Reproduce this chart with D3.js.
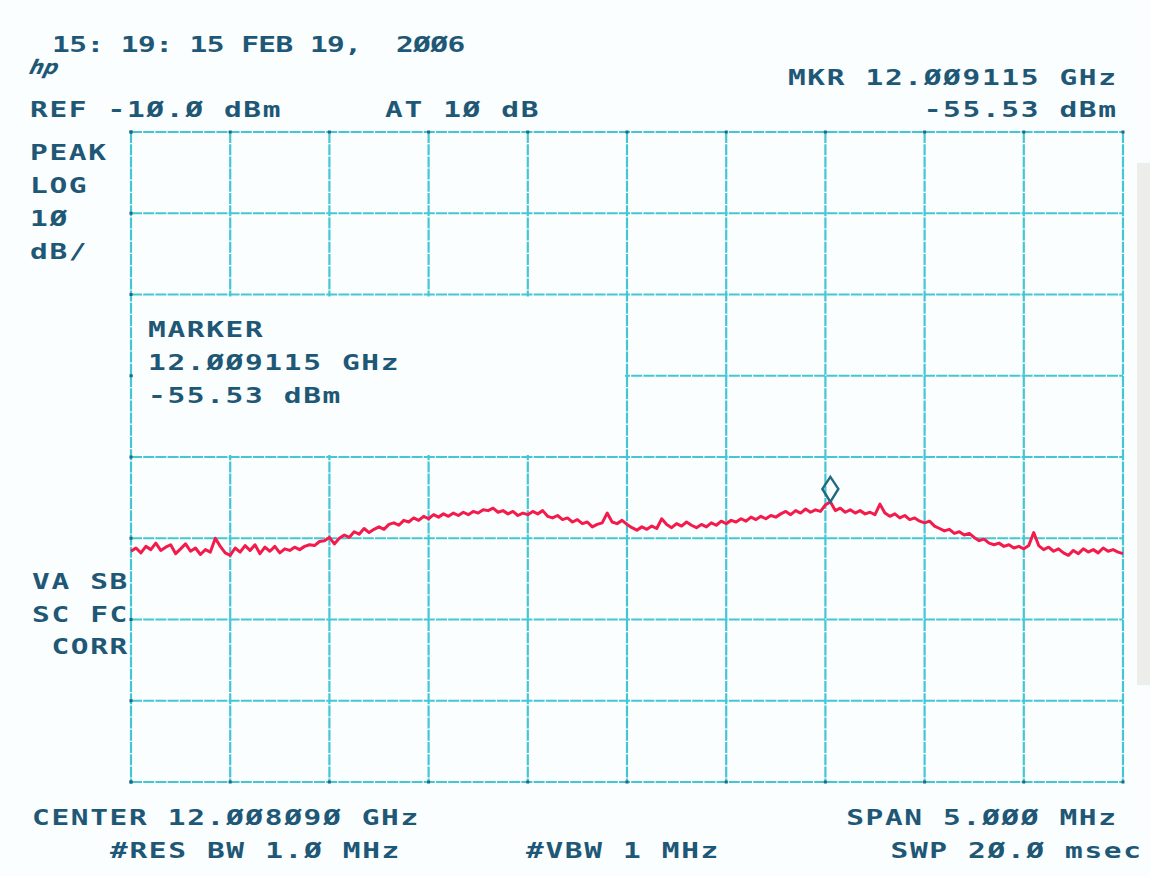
<!DOCTYPE html>
<html>
<head>
<meta charset="utf-8">
<script src="https://cdn.jsdelivr.net/npm/d3@7"></script>
<style>
  body { margin: 0; background: #fbfefe; }
  svg { display: block; }
</style>
</head>
<body>
<svg id="plot"></svg>
<script>
// Analyzer settings
const centerGHz = 12.008090;
const spanMHz = 5.0;
const refLevel = -10;      // dBm, top of the screen
const dbPerDiv = 10;
const xDivs = 10;
const yDivs = 8;
const markerGHz = 12.009115;
const markerDbm = -55.53;

// Trace, dBm, 201 sweep points left to right
const trace = [
  -61.6, -61.2, -61.8, -61.0, -61.4, -60.6, -61.5, -61.1, -60.8, -61.9,
  -61.3, -60.7, -61.6, -61.2, -62.0, -61.4, -61.7, -60.0, -61.0, -61.8,
  -62.1, -61.2, -61.7, -60.9, -61.5, -60.8, -61.9, -61.1, -61.6, -61.0,
  -61.8, -61.3, -61.5, -61.1, -61.4, -61.0, -60.8, -60.9, -60.4, -60.3,
  -59.9, -60.7, -60.0, -59.6, -59.9, -59.2, -59.5, -58.8, -59.3, -58.9,
  -58.6, -58.9, -58.3, -58.1, -58.4, -57.8, -58.0, -57.5, -57.8, -57.3,
  -57.6, -57.1, -57.4, -57.0, -57.3, -56.9, -57.2, -56.8, -57.1, -56.7,
  -56.9, -56.5, -56.6, -56.3, -56.8, -56.6, -57.0, -56.7, -57.2, -56.9,
  -57.1, -56.7, -57.0, -56.6, -57.3, -57.5, -57.2, -57.7, -57.5, -58.0,
  -57.7, -58.2, -58.0, -58.6, -58.3, -58.1, -56.9, -58.0, -58.2, -57.8,
  -58.3, -58.7, -59.0, -58.6, -58.9, -58.5, -58.8, -57.6, -58.3, -58.7,
  -58.2, -58.5, -58.0, -58.4, -58.7, -58.3, -58.6, -58.1, -58.4, -57.9,
  -58.2, -57.8, -58.0, -57.6, -57.9, -57.4, -57.7, -57.3, -57.6, -57.2,
  -57.4, -57.0, -56.7, -57.1, -56.6, -56.9, -56.4, -56.8, -56.5, -56.7,
  -55.9, -55.5, -56.6, -56.3, -56.8, -56.5, -56.9, -56.6, -57.0, -56.8,
  -57.1, -55.8, -56.9, -57.3, -57.0, -57.5, -57.2, -57.7, -57.5, -57.9,
  -58.1, -57.9, -58.5, -58.8, -59.1, -58.9, -59.4, -59.2, -59.6, -59.4,
  -59.9, -60.3, -60.1, -60.6, -60.8, -60.6, -61.0, -60.8, -61.2, -61.0,
  -61.3, -60.9, -59.3, -60.9, -61.4, -61.1, -61.6, -61.3, -61.8, -62.1,
  -61.5, -61.9, -61.3, -61.7, -61.4, -61.8, -61.2, -61.6, -61.4, -61.7,
  -61.9
];

// Annotation texts
const headerDate = "15: 19: 15 FEB 19,  2ØØ6";
const refText = "REF -1Ø.Ø dBm";
const attText = "AT 1Ø dB";
const mkrLines = ["MKR 12.ØØ9115 GHz", "-55.53 dBm"];
const leftTop = ["PEAK", "LOG", "1Ø", "dB/"];
const leftBottom = ["VA SB", "SC FC", " CORR"];
const markerBox = ["MARKER", "12.ØØ9115 GHz", "-55.53 dBm"];
const bottomRow1 = ["CENTER 12.ØØ8Ø9Ø GHz", "SPAN 5.ØØØ MHz"];
const bottomRow2 = ["#RES BW 1.Ø MHz", "#VBW 1 MHz", "SWP 2Ø.Ø msec"];

const width = 1150, height = 876;
const margin = ({top: 132, right: 27, bottom: 94, left: 131});

const gridColor = "#45c6d2";
const inkColor = "#1f5876";
const traceColor = "#f41a4c";
const paper = "#fbfefe";

const svg = d3.select("#plot")
  .attr("width", width)
  .attr("height", height)
  .attr("viewBox", [0, 0, width, height]);

// paper edge on the right
svg.append("rect")
  .attr("x", 1137).attr("y", 163)
  .attr("width", 13).attr("height", 522)
  .attr("fill", "#ededeb");

const startGHz = centerGHz - spanMHz / 2000;
const stopGHz = centerGHz + spanMHz / 2000;

const x = d3.scaleLinear()
  .domain([startGHz, stopGHz])
  .range([margin.left, width - margin.right]);

const y = d3.scaleLinear()
  .domain([refLevel - dbPerDiv * yDivs, refLevel])
  .range([height - margin.bottom, margin.top]);

const xTicks = d3.range(xDivs + 1).map(i => startGHz + i * (stopGHz - startGHz) / xDivs);
const yTicks = d3.range(yDivs + 1).map(i => refLevel - i * dbPerDiv);

// Grid
const grid = svg.append("g")
  .attr("stroke", gridColor)
  .attr("stroke-width", 2.2)
  .attr("stroke-dasharray", "11,1.2");

grid.selectAll(".v")
  .data(xTicks)
  .join("line")
    .attr("x1", d => x(d)).attr("x2", d => x(d))
    .attr("y1", y.range()[1]).attr("y2", y.range()[0]);

grid.selectAll(".h")
  .data(yTicks)
  .join("line")
    .attr("y1", d => y(d)).attr("y2", d => y(d))
    .attr("x1", x.range()[0]).attr("x2", x.range()[1]);

// blank area for the marker readout (edges stay on grid lines)
svg.append("rect")
  .attr("x", x(xTicks[0]) + 2)
  .attr("y", y(-30) + 2)
  .attr("width", x(xTicks[5]) - x(xTicks[0]) - 4)
  .attr("height", y(-50) - y(-30) - 4)
  .attr("fill", paper);

// dark tick dots where the grid meets the border
const dots = svg.append("g").attr("fill", "#1d6a7a");
dots.selectAll(".tx")
  .data(xTicks)
  .join("rect")
    .attr("x", d => x(d) - 1.5).attr("y", y.range()[1] - 1.5)
    .attr("width", 3).attr("height", 3);
dots.selectAll(".bx")
  .data(xTicks)
  .join("rect")
    .attr("x", d => x(d) - 1.5).attr("y", y.range()[0] - 1.5)
    .attr("width", 3).attr("height", 3);
dots.selectAll(".ly")
  .data(yTicks)
  .join("rect")
    .attr("x", x.range()[0] - 1.5).attr("y", d => y(d) - 1.5)
    .attr("width", 3).attr("height", 3);

// Trace
const sweep = trace.map((v, i) => ({
  f: startGHz + i * (stopGHz - startGHz) / (trace.length - 1),
  v: v
}));

svg.append("path")
  .datum(sweep)
  .attr("fill", "none")
  .attr("stroke", traceColor)
  .attr("stroke-width", 3)
  .attr("stroke-linejoin", "round")
  .attr("d", d3.line().x(d => x(d.f)).y(d => y(d.v)));

// Marker diamond, tip sits on the marker level
const mx = x(markerGHz), my = y(markerDbm);
svg.append("path")
  .attr("d", `M${mx},${my} L${mx + 8},${my - 13} L${mx},${my - 25} L${mx - 8},${my - 13} Z`)
  .attr("fill", "none")
  .attr("stroke", "#1f6a80")
  .attr("stroke-width", 2.4);

// Text helper: wide plotter-style lettering, fixed pitch
const fontSize = 22;
const stretch = 1.34;
function label(str, px, py, anchor = "start", pitch = 19.4) {
  const ls = (pitch / stretch) - fontSize * 0.602;
  return svg.append("text")
    .attr("transform", `translate(${px},${py}) scale(${stretch},1)`)
    .attr("x", anchor === "end" ? ls : 0)
    .attr("text-anchor", anchor)
    .attr("font-family", "DejaVu Sans Mono, monospace")
    .attr("font-weight", "bold")
    .attr("font-size", fontSize)
    .attr("letter-spacing", ls)
    .attr("fill", inkColor)
    .style("white-space", "pre")
    .text(str);
}

// hp logo
svg.append("text")
  .attr("x", 30).attr("y", 74)
  .attr("font-family", "DejaVu Sans, sans-serif")
  .attr("font-style", "italic")
  .attr("font-weight", "bold")
  .attr("font-size", 20)
  .attr("fill", inkColor)
  .attr("transform", "skewX(-15) translate(18,0)")
  .text("hp");

label(headerDate, 52, 52, "start", 17.2);
label(mkrLines[0], 1116, 85, "end");
label(mkrLines[1], 1116, 117, "end");
label(refText, 30, 117);
label(attText, 385, 117);

leftTop.forEach((s, i) => label(s, 30, 160 + i * 33));
leftBottom.forEach((s, i) => label(s, 32, 589 + i * 32.5));

markerBox.forEach((s, i) => label(s, 148, 337 + i * 33));

label(bottomRow1[0], 32, 825);
label(bottomRow1[1], 1116, 825, "end");
label(bottomRow2[0], 110, 858);
label(bottomRow2[1], 526, 858);
label(bottomRow2[2], 1141, 858, "end");
</script>
</body>
</html>
